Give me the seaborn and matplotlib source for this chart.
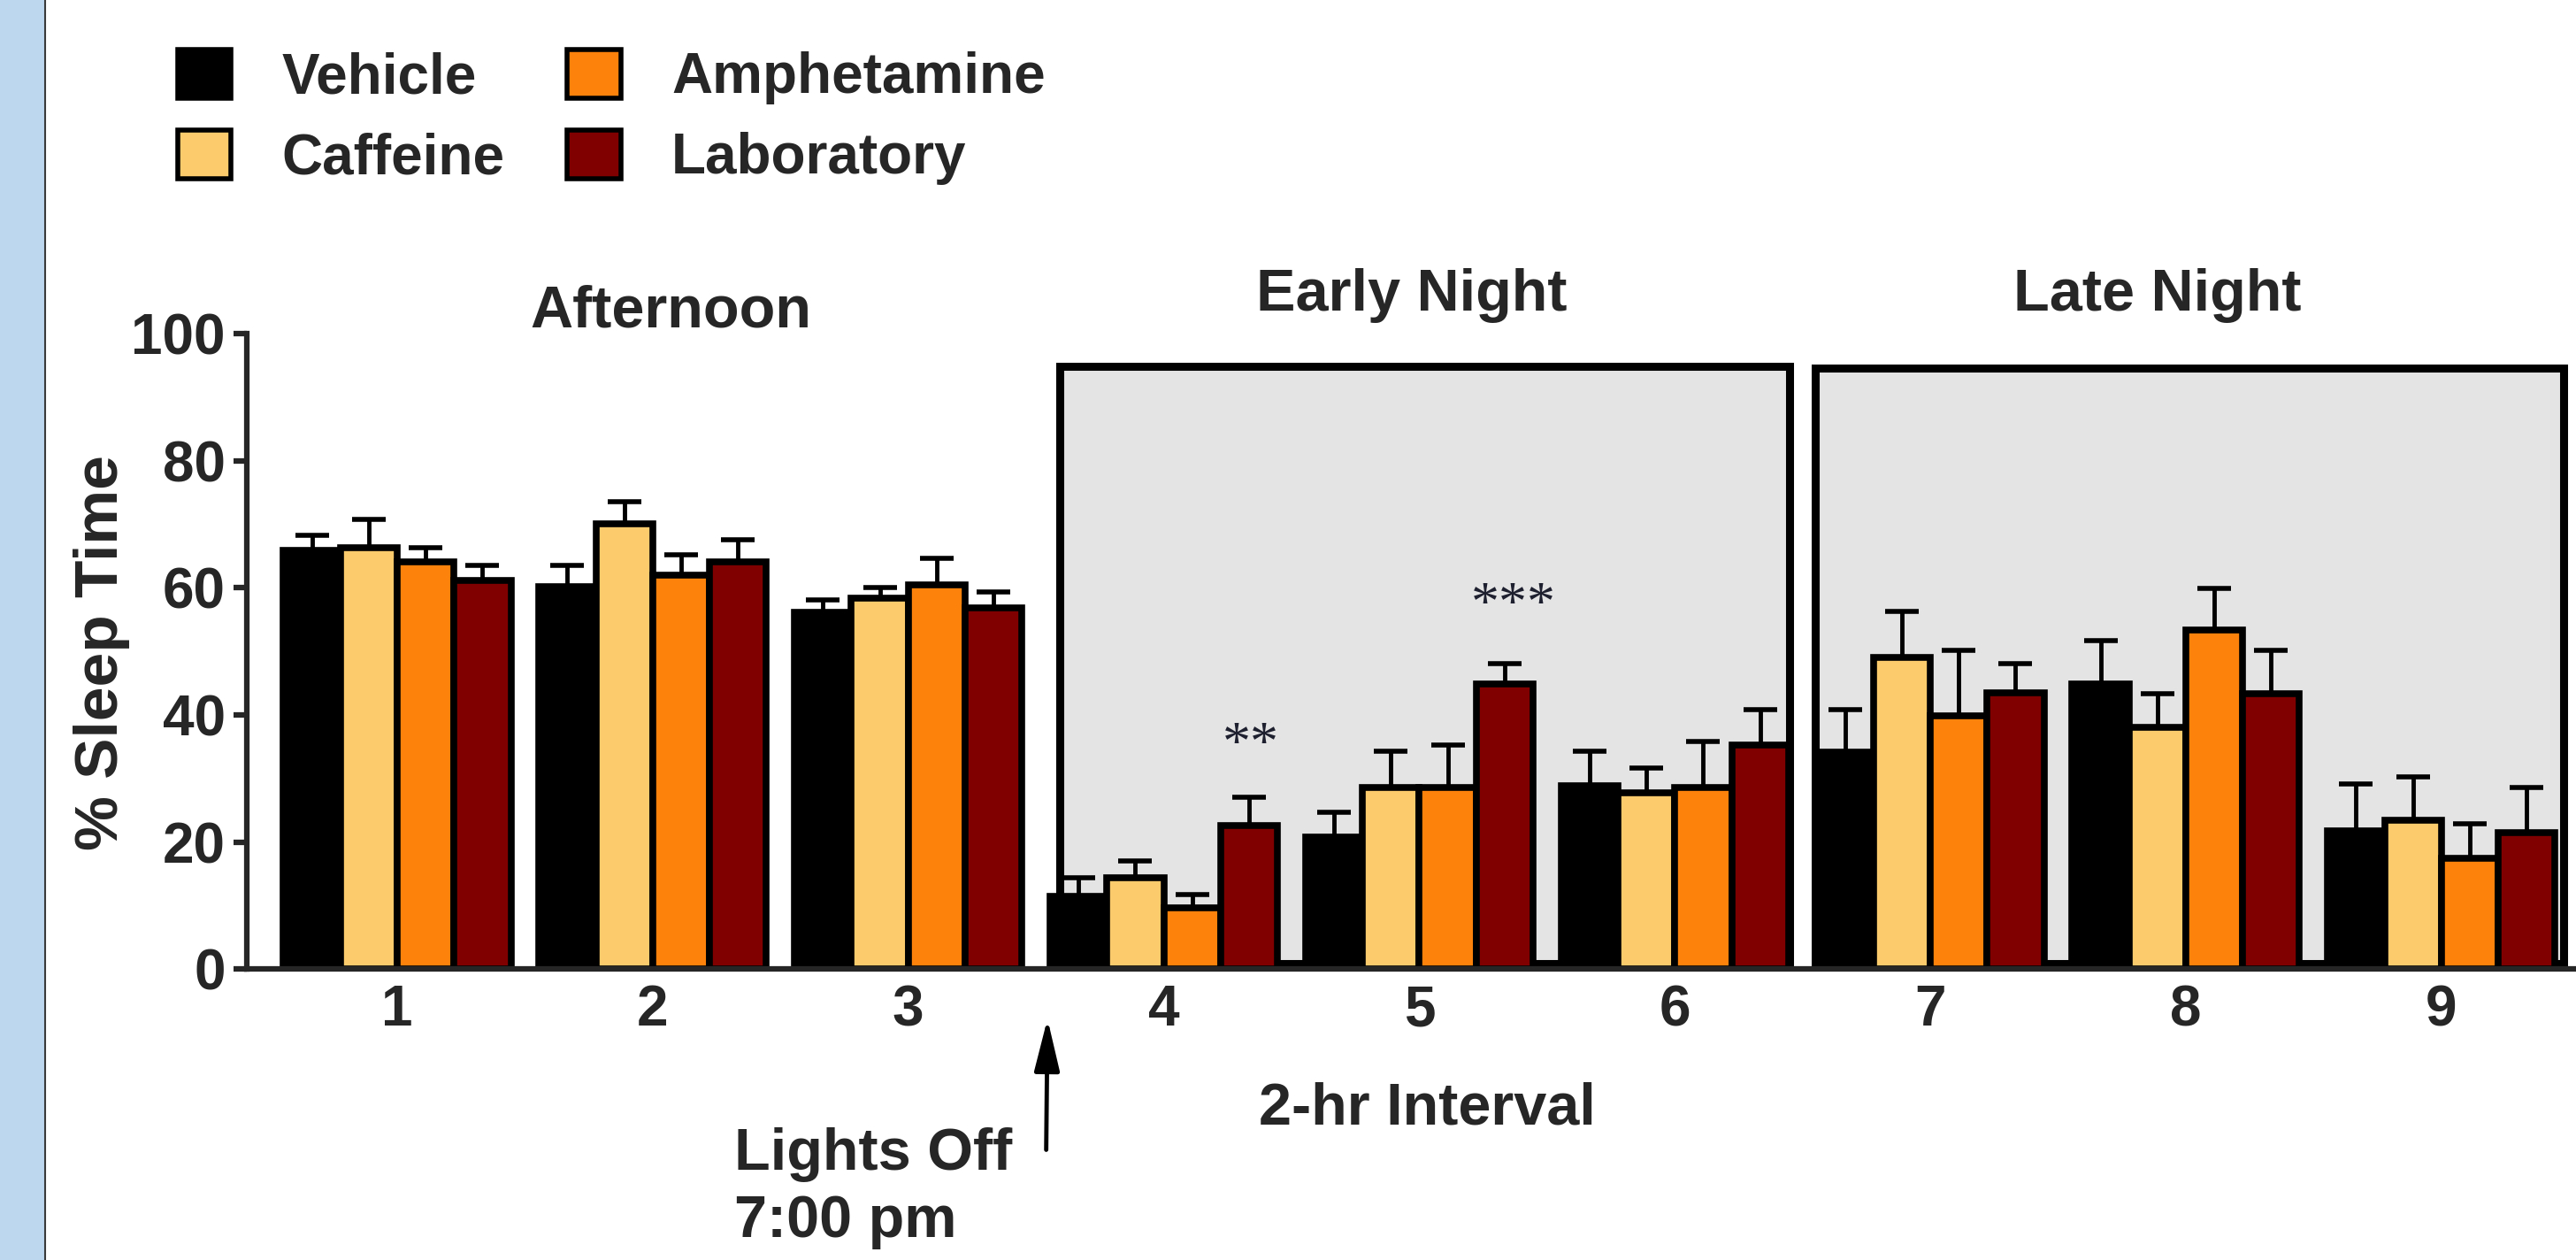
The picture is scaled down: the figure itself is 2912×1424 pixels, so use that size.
import numpy as np
import pandas as pd
import matplotlib
matplotlib.use("Agg")
import matplotlib.pyplot as plt
import seaborn as sns
from matplotlib.patches import Rectangle, Patch
from matplotlib.lines import Line2D
from matplotlib import font_manager as fm

# ---------------- data ----------------
intervals = ["1", "2", "3", "4", "5", "6", "7", "8", "9"]
groups = ["Vehicle", "Caffeine", "Amphetamine", "Laboratory"]
colors = ["#000000", "#FCCB6B", "#FD820B", "#800000"]

vehicle = [65.9, 60.2, 56.2, 11.4, 20.8, 28.8, 34.1, 44.8, 21.7]
vehicle_err = [2.4, 3.3, 1.9, 3.0, 3.9, 5.5, 6.8, 6.9, 7.4]
caffeine = [66.3, 70.1, 58.4, 14.4, 28.6, 27.7, 49.1, 38.0, 23.5]
caffeine_err = [4.4, 3.5, 1.7, 2.6, 5.7, 4.0, 7.2, 5.4, 6.7]
amphetamine = [64.1, 62.0, 60.4, 9.7, 28.6, 28.6, 39.9, 53.3, 17.5]
amphetamine_err = [2.2, 3.2, 4.2, 2.1, 6.7, 7.2, 10.3, 6.6, 5.4]
laboratory = [61.1, 64.1, 56.8, 22.6, 44.9, 35.3, 43.5, 43.4, 21.5]
laboratory_err = [2.4, 3.5, 2.6, 4.5, 3.2, 5.6, 4.6, 6.8, 7.1]

yticks = [0, 20, 40, 60, 80, 100]
period_labels = ["Afternoon", "Early Night", "Late Night"]

values = [vehicle, caffeine, amphetamine, laboratory]
errors = [vehicle_err, caffeine_err, amphetamine_err, laboratory_err]

rows = []
for g, vals in zip(groups, values):
    for iv, v in zip(intervals, vals):
        rows.append({"Interval": iv, "Group": g, "Sleep": v})
df = pd.DataFrame(rows)

# ---------------- style ----------------
sns.set_style("white")
available = {f.name for f in fm.fontManager.ttflist}
narrow_candidates = ["Liberation Sans Narrow", "DejaVu Sans Condensed"]
narrow = [n for n in narrow_candidates if n in available]
if narrow:
    NARROW = [narrow[0], "Liberation Sans", "DejaVu Sans"]
    SZ = 52
else:
    NARROW = ["Liberation Sans", "DejaVu Sans"]
    SZ = 46
plt.rcParams["font.family"] = NARROW
plt.rcParams["font.weight"] = "bold"

W, H = 2912, 1424
fig = plt.figure(figsize=(W / 100, H / 100), dpi=100)
fig.patch.set_facecolor("white")

# blue strip at left edge
fig.patches.append(Rectangle((0, 0), 50 / W, 1, transform=fig.transFigure,
                             facecolor="#BDD7EE", edgecolor="none", zorder=0))
fig.add_artist(Line2D([51 / W, 51 / W], [0, 1], transform=fig.transFigure,
                      color="#3A3A3A", lw=1.5))

ax = fig.add_axes([150 / 1568, 1 - 590 / 767, 1 - 150 / 1568, (590 - 203) / 767])

sns.barplot(data=df, x="Interval", y="Sleep", hue="Group", order=intervals,
            hue_order=groups, palette=colors, width=0.89, errorbar=None,
            edgecolor="black", linewidth=5.5, saturation=1, legend=False,
            ax=ax, zorder=2)

# upper-only error bars
for cont, errs in zip(ax.containers, errors):
    xs = [p.get_x() + p.get_width() / 2 for p in cont]
    ys = [p.get_height() for p in cont]
    ax.errorbar(xs, ys, yerr=[np.zeros(len(errs)), errs], fmt="none",
                ecolor="black", elinewidth=3.5, capsize=13.5, capthick=4,
                zorder=1.5)

# shaded period boxes
ax.add_patch(Rectangle((2.594, 0.9), 5.45 - 2.594, 94.9 - 0.9, facecolor="#E4E4E4",
                       edgecolor="black", lw=6.5, zorder=1))
ax.add_patch(Rectangle((5.55, 0.9), 8.48 - 5.55, 94.6 - 0.9, facecolor="#E4E4E4",
                       edgecolor="black", lw=6.5, zorder=1))

ax.set_xlim(-0.59, 8.527)
ax.set_ylim(0, 100)
ax.set_yticks(yticks)
ax.set_xlabel("")
ax.set_ylabel("")
sns.despine(ax=ax)
for s in ["left", "bottom"]:
    ax.spines[s].set_linewidth(4.5)
    ax.spines[s].set_zorder(5)
ax.tick_params(axis="y", length=11, width=4.5, pad=6, labelsize=SZ, left=True)
ax.tick_params(axis="x", length=0, pad=12, labelsize=SZ)
for t in ax.get_xticklabels() + ax.get_yticklabels():
    t.set_fontweight("bold")

# period titles
TS = SZ + 2
ax.text(1.07, 103.4, period_labels[0], ha="center", va="center", fontsize=TS,
        fontweight="bold", clip_on=False)
ax.text(3.97, 105.9, period_labels[1], ha="center", va="center", fontsize=TS,
        fontweight="bold", clip_on=False)
ax.text(6.89, 105.9, period_labels[2], ha="center", va="center", fontsize=TS,
        fontweight="bold", clip_on=False)

# significance marks
ax.text(3.34, 35.0, "**", ha="center", va="center", fontsize=46,
        family=["Liberation Serif", "DejaVu Serif"], fontweight="normal",
        color="#1E2030", clip_on=False)
ax.text(4.37, 57.0, "***", ha="center", va="center", fontsize=46,
        family=["Liberation Serif", "DejaVu Serif"], fontweight="normal",
        color="#1E2030", clip_on=False)

# x label and lights-off annotation
ax.text(4.03, -22.0, "2-hr Interval", ha="center", va="center", fontsize=TS,
        fontweight="bold", clip_on=False)
ax.text(1.32, -34.5, "Lights Off\n7:00 pm", ha="left", va="center", fontsize=TS,
        fontweight="bold", linespacing=1.3, clip_on=False)
ax.annotate("", xy=(2.545, -7.8), xytext=(2.54, -28.4),
            arrowprops=dict(arrowstyle="-|>,head_length=0.9,head_width=0.22",
                            color="black", lw=3.5, shrinkA=0, shrinkB=0,
                            mutation_scale=40),
            annotation_clip=False)

# y label (wide font)
fig.text(62 / 1568, 1 - 397 / 767, "% Sleep Time", rotation=90, ha="center",
         va="center", fontsize=50, fontweight="bold",
         family=["Liberation Sans", "DejaVu Sans"])

# legend
handles = [Patch(facecolor=c, edgecolor="black", lw=4) for c in colors]
leg = fig.legend(handles=handles, labels=groups, loc="upper left",
                 bbox_to_anchor=(108 / 1568, 1 - 30 / 767), ncol=2,
                 frameon=False, fontsize=SZ, handlelength=0.95 * 46 / SZ,
                 handleheight=0.95 * 46 / SZ, handletextpad=0.9 * 46 / SZ,
                 columnspacing=1.1 * 46 / SZ, labelspacing=0.45 * 46 / SZ,
                 borderaxespad=0, borderpad=0)
for t in leg.get_texts():
    t.set_fontweight("bold")

fig.savefig("out.png", dpi=100, facecolor="white")
